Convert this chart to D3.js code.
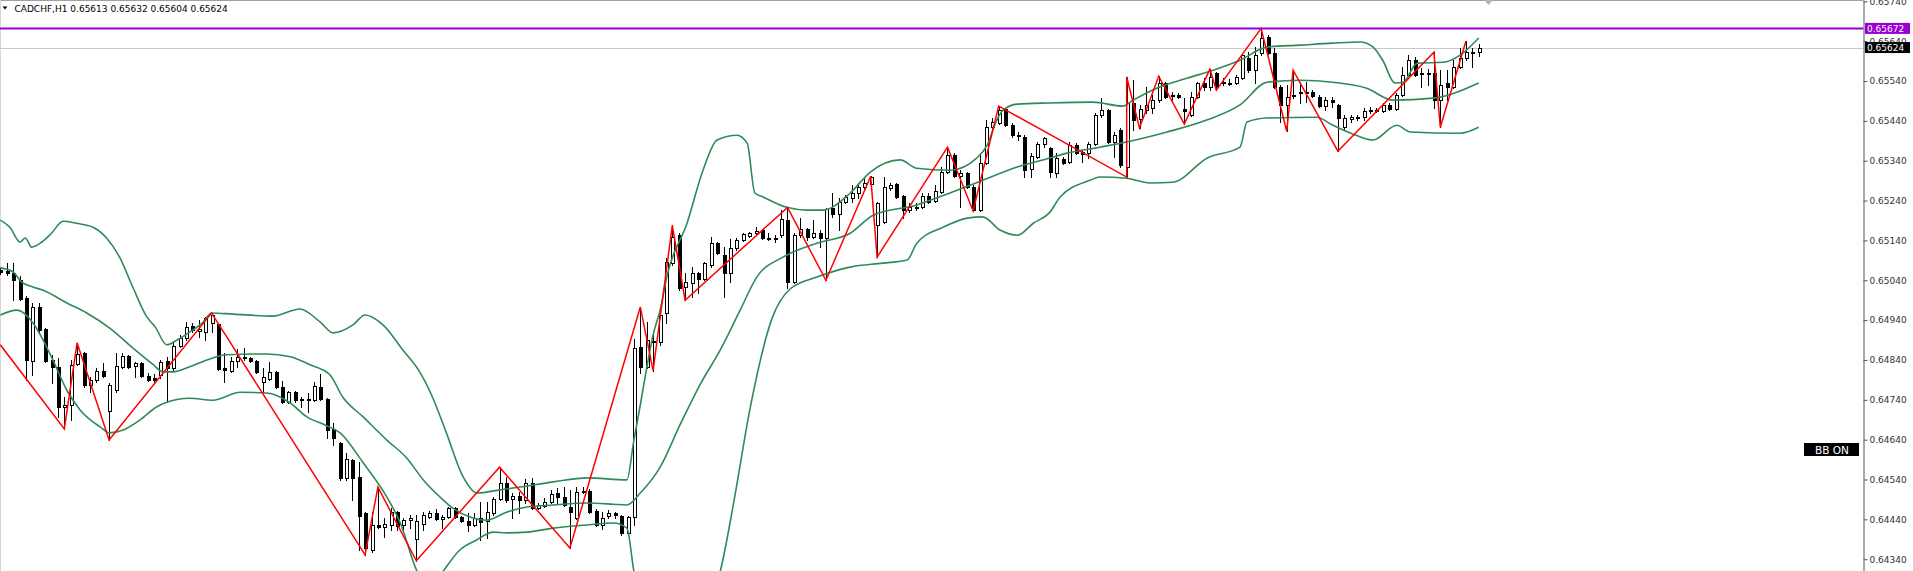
<!DOCTYPE html>
<html><head><meta charset="utf-8">
<script src="https://cdn.jsdelivr.net/npm/d3@7"></script>
<style>
html,body{margin:0;padding:0;background:#fff;overflow:hidden}
svg{display:block}
text{font-family:"DejaVu Sans",sans-serif}
</style></head><body>
<svg id="c" width="1913" height="571"></svg>
<script>
const symbol = "CADCHF,H1";
const open = [0.65066,0.65064,0.65059,0.65040,0.64995,0.64838,0.64973,0.64918,0.64840,0.64823,
0.64722,0.64727,0.64830,0.64858,0.64778,0.64790,0.64813,0.64712,0.64764,0.64823,
0.64850,0.64825,0.64833,0.64800,0.64795,0.64803,0.64838,0.64820,0.64875,0.64895,
0.64925,0.64913,0.64910,0.64933,0.64930,0.64820,0.64813,0.64838,0.64845,0.64845,
0.64838,0.64785,0.64793,0.64810,0.64772,0.64734,0.64759,0.64742,0.64739,0.64739,
0.64772,0.64742,0.64667,0.64632,0.64544,0.64589,0.64547,0.64456,0.64363,0.64426,
0.64421,0.64426,0.64458,0.64426,0.64438,0.64391,0.64428,0.64446,0.64456,0.64441,
0.64446,0.64468,0.64446,0.64436,0.64426,0.64443,0.64436,0.64456,0.64491,0.64531,
0.64491,0.64498,0.64488,0.64531,0.64468,0.64473,0.64483,0.64506,0.64496,0.64471,
0.64443,0.64509,0.64511,0.64461,0.64426,0.64448,0.64456,0.64448,0.64406,0.64446,
0.64873,0.64823,0.64885,0.64885,0.64958,0.65083,0.65153,0.65023,0.65033,0.65058,
0.65043,0.65078,0.65133,0.65103,0.65058,0.65121,0.65141,0.65151,0.65158,0.65166,
0.65146,0.65146,0.65153,0.65191,0.65035,0.65153,0.65168,0.65148,0.65158,0.65146,
0.65221,0.65206,0.65236,0.65246,0.65259,0.65274,0.65281,0.65178,0.65186,0.65271,
0.65281,0.65251,0.65216,0.65224,0.65223,0.65251,0.65239,0.65261,0.65311,0.65354,
0.65301,0.65309,0.65274,0.65216,0.65334,0.65424,0.65434,0.65469,0.65429,0.65404,
0.65399,0.65319,0.65349,0.65382,0.65372,0.65309,0.65344,0.65337,0.65379,0.65362,
0.65359,0.65382,0.65454,0.65467,0.65387,0.65417,0.65324,0.65485,0.65444,0.65467,
0.65472,0.65492,0.65535,0.65505,0.65505,0.65469,0.65454,0.65500,0.65535,0.65525,
0.65560,0.65537,0.65536,0.65535,0.65547,0.65597,0.65567,0.65610,0.65650,0.65610,
0.65525,0.65480,0.65502,0.65510,0.65512,0.65512,0.65500,0.65477,0.65492,0.65480,
0.65424,0.65444,0.65448,0.65449,0.65466,0.65467,0.65464,0.65480,0.65469,0.65505,
0.65555,0.65592,0.65560,0.65559,0.65560,0.65492,0.65535,0.65525,0.65575,0.65597,
0.65612,0.65613];
const high = [0.65071,0.65084,0.65084,0.65051,0.65000,0.64983,0.64983,0.64920,0.64853,0.64845,
0.64747,0.64840,0.64883,0.64860,0.64798,0.64820,0.64833,0.64783,0.64858,0.64858,
0.64853,0.64835,0.64835,0.64808,0.64805,0.64840,0.64848,0.64883,0.64903,0.64935,
0.64933,0.64940,0.64948,0.64958,0.64933,0.64858,0.64848,0.64868,0.64870,0.64848,
0.64840,0.64820,0.64835,0.64813,0.64788,0.64762,0.64762,0.64747,0.64757,0.64785,
0.64805,0.64744,0.64682,0.64634,0.64607,0.64592,0.64584,0.64458,0.64458,0.64521,
0.64443,0.64468,0.64460,0.64443,0.64451,0.64451,0.64458,0.64461,0.64466,0.64451,
0.64471,0.64471,0.64448,0.64456,0.64456,0.64483,0.64483,0.64496,0.64571,0.64546,
0.64506,0.64509,0.64541,0.64544,0.64481,0.64493,0.64514,0.64519,0.64521,0.64514,
0.64521,0.64521,0.64516,0.64466,0.64458,0.64463,0.64458,0.64451,0.64448,0.64893,
0.64973,0.64935,0.64903,0.64970,0.65096,0.65178,0.65158,0.65058,0.65073,0.65061,
0.65086,0.65148,0.65136,0.65123,0.65143,0.65146,0.65158,0.65161,0.65173,0.65168,
0.65158,0.65153,0.65216,0.65223,0.65158,0.65196,0.65171,0.65191,0.65166,0.65221,
0.65259,0.65246,0.65254,0.65279,0.65284,0.65296,0.65301,0.65236,0.65299,0.65284,
0.65284,0.65254,0.65234,0.65234,0.65259,0.65259,0.65279,0.65324,0.65374,0.65359,
0.65316,0.65311,0.65279,0.65359,0.65442,0.65447,0.65477,0.65472,0.65434,0.65412,
0.65404,0.65359,0.65387,0.65399,0.65374,0.65359,0.65349,0.65387,0.65384,0.65367,
0.65387,0.65459,0.65497,0.65469,0.65412,0.65422,0.65550,0.65542,0.65479,0.65525,
0.65505,0.65552,0.65537,0.65512,0.65510,0.65497,0.65512,0.65537,0.65547,0.65570,
0.65562,0.65547,0.65545,0.65555,0.65610,0.65612,0.65625,0.65672,0.65655,0.65623,
0.65530,0.65530,0.65567,0.65537,0.65537,0.65517,0.65505,0.65500,0.65500,0.65482,
0.65454,0.65454,0.65454,0.65472,0.65474,0.65472,0.65485,0.65485,0.65510,0.65575,
0.65605,0.65600,0.65572,0.65570,0.65612,0.65567,0.65567,0.65592,0.65623,0.65640,
0.65623,0.65632];
const low = [0.65056,0.65054,0.64990,0.64990,0.64790,0.64803,0.64910,0.64835,0.64783,0.64697,
0.64667,0.64689,0.64828,0.64773,0.64759,0.64785,0.64798,0.64639,0.64759,0.64820,
0.64820,0.64798,0.64798,0.64788,0.64783,0.64795,0.64734,0.64815,0.64873,0.64890,
0.64910,0.64898,0.64890,0.64910,0.64815,0.64785,0.64810,0.64823,0.64840,0.64835,
0.64808,0.64759,0.64790,0.64769,0.64732,0.64732,0.64734,0.64722,0.64709,0.64737,
0.64739,0.64644,0.64627,0.64539,0.64539,0.64488,0.64363,0.64351,0.64358,0.64418,
0.64396,0.64413,0.64413,0.64413,0.64418,0.64336,0.64413,0.64443,0.64438,0.64418,
0.64443,0.64443,0.64433,0.64411,0.64423,0.64388,0.64393,0.64451,0.64488,0.64483,
0.64443,0.64456,0.64481,0.64466,0.64466,0.64471,0.64481,0.64481,0.64473,0.64368,
0.64441,0.64506,0.64456,0.64423,0.64416,0.64443,0.64443,0.64401,0.64403,0.64426,
0.64808,0.64820,0.64813,0.64878,0.64933,0.65078,0.65015,0.64990,0.64998,0.65008,
0.65040,0.65073,0.65106,0.64998,0.65035,0.65116,0.65138,0.65148,0.65156,0.65143,
0.65141,0.65136,0.65148,0.65020,0.65033,0.65148,0.65141,0.65146,0.65123,0.65040,
0.65198,0.65166,0.65234,0.65236,0.65246,0.65266,0.65279,0.65098,0.65183,0.65266,
0.65246,0.65196,0.65211,0.65216,0.65221,0.65234,0.65236,0.65259,0.65309,0.65299,
0.65223,0.65271,0.65214,0.65213,0.65332,0.65422,0.65432,0.65427,0.65399,0.65392,
0.65299,0.65299,0.65347,0.65374,0.65299,0.65299,0.65332,0.65334,0.65357,0.65337,
0.65347,0.65379,0.65449,0.65384,0.65349,0.65324,0.65299,0.65417,0.65422,0.65459,
0.65459,0.65487,0.65497,0.65492,0.65497,0.65432,0.65452,0.65497,0.65517,0.65517,
0.65517,0.65530,0.65530,0.65532,0.65545,0.65562,0.65535,0.65605,0.65607,0.65522,
0.65437,0.65414,0.65497,0.65485,0.65487,0.65500,0.65474,0.65467,0.65474,0.65364,
0.65417,0.65437,0.65442,0.65442,0.65459,0.65462,0.65462,0.65467,0.65467,0.65502,
0.65552,0.65552,0.65525,0.65530,0.65472,0.65424,0.65492,0.65522,0.65572,0.65592,
0.65575,0.65604];
const close = [0.65061,0.65059,0.65040,0.64993,0.64840,0.64973,0.64915,0.64838,0.64823,0.64722,
0.64727,0.64828,0.64855,0.64778,0.64790,0.64813,0.64800,0.64778,0.64825,0.64850,
0.64823,0.64833,0.64800,0.64790,0.64790,0.64835,0.64820,0.64875,0.64895,0.64923,
0.64915,0.64918,0.64945,0.64953,0.64818,0.64815,0.64838,0.64848,0.64848,0.64838,
0.64810,0.64798,0.64810,0.64772,0.64734,0.64759,0.64739,0.64739,0.64742,0.64774,
0.64742,0.64664,0.64644,0.64544,0.64592,0.64544,0.64448,0.64368,0.64426,0.64421,
0.64428,0.64458,0.64423,0.64438,0.64443,0.64436,0.64451,0.64456,0.64441,0.64446,
0.64468,0.64446,0.64436,0.64426,0.64443,0.64433,0.64458,0.64491,0.64531,0.64488,
0.64498,0.64488,0.64531,0.64468,0.64476,0.64483,0.64504,0.64496,0.64476,0.64458,
0.64509,0.64511,0.64458,0.64426,0.64443,0.64456,0.64451,0.64406,0.64446,0.64870,
0.64823,0.64890,0.64888,0.64953,0.65086,0.65148,0.65020,0.65035,0.65058,0.65043,
0.65083,0.65133,0.65108,0.65058,0.65121,0.65141,0.65156,0.65158,0.65163,0.65146,
0.65145,0.65147,0.65193,0.65035,0.65153,0.65168,0.65148,0.65158,0.65146,0.65218,
0.65206,0.65236,0.65249,0.65259,0.65274,0.65284,0.65299,0.65234,0.65274,0.65279,
0.65249,0.65216,0.65223,0.65223,0.65251,0.65236,0.65264,0.65311,0.65354,0.65301,
0.65309,0.65274,0.65216,0.65334,0.65424,0.65437,0.65467,0.65429,0.65404,0.65402,
0.65316,0.65352,0.65382,0.65397,0.65311,0.65347,0.65334,0.65379,0.65359,0.65357,
0.65382,0.65454,0.65467,0.65387,0.65404,0.65329,0.65485,0.65442,0.65469,0.65479,
0.65492,0.65535,0.65500,0.65502,0.65500,0.65464,0.65500,0.65535,0.65525,0.65550,
0.65525,0.65535,0.65535,0.65550,0.65605,0.65567,0.65605,0.65648,0.65610,0.65525,
0.65480,0.65500,0.65505,0.65512,0.65513,0.65502,0.65477,0.65492,0.65487,0.65447,
0.65447,0.65449,0.65449,0.65464,0.65467,0.65468,0.65480,0.65469,0.65505,0.65555,
0.65592,0.65555,0.65559,0.65560,0.65492,0.65530,0.65525,0.65575,0.65597,0.65612,
0.65610,0.65624];

// Bollinger bands read at sample bar positions
const upperIdx = [0,1.5,3.1,3.9,4.9,6.5,8.0,9.8,11.9,14.5,16.6,18.7,20.7,22.9,24.2,26.0,27.6,29.6,31.7,33.0,36.4,42.6,46.8,50.0,52.0,55.1,57.0,59.8,62.9,65.6,67.6,69.7,72.3,74.5,78.1,81.2,86.4,91.7,97.9,99.0,100.0,101.0,102.0,103.1,104.2,107.3,109.8,112.0,115.1,116.7,117.9,119.2,122.9,126.0,128.5,132.8,135.9,140.6,143.2,148.4,152.6,154.2,155.7,156.7,158.9,164.0,170.7,175.4,177.0,180.7,185.4,189.5,193.7,197.9,203.1,208.2,212.5,214.5,216.0,217.9,219.2,221.4,225.4,228.1,231.0];
const upper = [0.65191,0.65173,0.65136,0.65146,0.65123,0.65136,0.65158,0.65188,0.65183,0.65173,0.65146,0.65096,0.65023,0.64948,0.64923,0.64878,0.64890,0.64910,0.64935,0.64958,0.64955,0.64950,0.64968,0.64935,0.64908,0.64928,0.64953,0.64928,0.64865,0.64808,0.64744,0.64657,0.64547,0.64506,0.64514,0.64521,0.64534,0.64544,0.64539,0.64639,0.64727,0.64820,0.64903,0.64965,0.65053,0.65183,0.65316,0.65392,0.65404,0.65384,0.65259,0.65249,0.65223,0.65216,0.65216,0.65259,0.65311,0.65342,0.65321,0.65316,0.65347,0.65379,0.65442,0.65467,0.65482,0.65485,0.65487,0.65477,0.65492,0.65522,0.65547,0.65567,0.65592,0.65625,0.65630,0.65635,0.65638,0.65625,0.65592,0.65535,0.65537,0.65585,0.65587,0.65605,0.65648];
const middleIdx = [0,2.0,3.3,5.1,6.7,10.4,13.5,17.1,20.7,23.9,25.4,27.0,29.6,32.3,35.4,41.6,45.3,48.4,51.5,53.5,56.7,60.4,63.5,66.1,68.7,70.7,73.4,76.0,79.1,82.3,86.4,91.6,95.8,97.9,100.0,103.1,106.2,109.3,112.5,115.6,118.2,122.3,127.6,132.8,136.4,143.2,148.4,153.5,158.9,164.0,166.7,171.8,176.0,182.3,188.5,193.7,197.9,203.1,208.2,213.5,217.6,223.9,231.0];
const middle = [0.65071,0.65061,0.65036,0.65023,0.65015,0.64983,0.64958,0.64920,0.64870,0.64828,0.64810,0.64810,0.64823,0.64840,0.64853,0.64855,0.64848,0.64828,0.64803,0.64747,0.64697,0.64639,0.64594,0.64539,0.64496,0.64468,0.64446,0.64438,0.64458,0.64471,0.64476,0.64481,0.64478,0.64476,0.64506,0.64571,0.64677,0.64777,0.64865,0.64965,0.65048,0.65098,0.65133,0.65158,0.65203,0.65229,0.65259,0.65291,0.65324,0.65347,0.65359,0.65374,0.65387,0.65412,0.65442,0.65480,0.65537,0.65542,0.65537,0.65522,0.65492,0.65497,0.65535];
const lowerIdx = [0,2.6,5.1,6.7,8.2,10.4,12.5,15.6,17.1,19.2,21.8,24.4,26.0,29.6,33.2,37.5,41.6,45.3,47.9,50.7,53.1,56.7,60.4,62.5,65.1,67.1,69.2,71.8,74.4,77.0,79.1,82.3,86.4,91.6,95.8,97.9,99.0,100.0,102.0,104.0,106.2,108.2,110.3,112.5,114.8,117.1,120.6,123.4,127.6,132.8,137.9,141.7,143.2,147.3,151.1,153.5,156.2,158.9,161.4,164.0,165.6,170.3,171.8,176.0,179.6,183.2,188.6,193.7,194.8,197.9,205.7,208.2,211.8,214.5,218.2,220.3,228.1,231.0];
const lower = [0.64953,0.64965,0.64933,0.64890,0.64840,0.64764,0.64714,0.64672,0.64657,0.64664,0.64689,0.64722,0.64734,0.64744,0.64739,0.64759,0.64757,0.64732,0.64697,0.64677,0.64657,0.64582,0.64496,0.64431,0.64310,0.64263,0.64310,0.64363,0.64388,0.64408,0.64406,0.64408,0.64418,0.64426,0.64431,0.64418,0.64310,0.64238,0.64175,0.64125,0.64112,0.64137,0.64213,0.64310,0.64501,0.64714,0.64945,0.65018,0.65048,0.65073,0.65083,0.65091,0.65133,0.65173,0.65196,0.65199,0.65166,0.65153,0.65183,0.65211,0.65249,0.65291,0.65299,0.65296,0.65284,0.65286,0.65347,0.65374,0.65437,0.65447,0.65449,0.65429,0.65404,0.65392,0.65429,0.65412,0.65409,0.65424];

// ZigZag turning points (bar index, price)
const zzIdx = [0,10,12,17,33,57,59,65,78,89,100,102,105,107,123,129,136,137,148,152,156,176,176,178,181,185,189,190,197,201,202,209,224,225,229];
const zzVal = [0.64878,0.64667,0.64883,0.64639,0.64958,0.64351,0.64521,0.64336,0.64571,0.64368,0.64973,0.64813,0.65178,0.64990,0.65223,0.65040,0.65301,0.65098,0.65374,0.65214,0.65477,0.65299,0.65550,0.65422,0.65552,0.65432,0.65570,0.65517,0.65672,0.65414,0.65567,0.65364,0.65612,0.65424,0.65640];

const levelPrice = 0.65672;   // horizontal level (purple)
const tickVals = [0.65740,0.65640,0.65540,0.65440,0.65340,0.65240,0.65140,0.65040,0.64940,0.64840,0.64740,0.64640,0.64540,0.64440,0.64340];

const W = 1913, H = 571, axisX = 1863.5;
const svg = d3.select("#c");
const x = d3.scaleLinear().domain([0, open.length - 1]).range([0.3, 1478.7]);
const y = d3.scaleLinear().domain([0.643104, 0.657433]).range([H, 0]);
const fmt = d3.format(".5f");

svg.append("defs").append("clipPath").attr("id","clip")
  .append("rect").attr("x",0).attr("y",0).attr("width",axisX).attr("height",H);

// frame
svg.append("line").attr("x1",0).attr("x2",axisX).attr("y1",0.5).attr("y2",0.5).attr("stroke","#a0a0a0");
svg.append("line").attr("x1",0.5).attr("x2",0.5).attr("y1",0).attr("y2",H).attr("stroke","#d8d8d8");

const plot = svg.append("g").attr("clip-path","url(#clip)");

// current price line
const last = close[close.length-1];
plot.append("line").attr("x1",0).attr("x2",axisX).attr("y1",Math.round(y(last))+0.5).attr("y2",Math.round(y(last))+0.5)
  .attr("stroke","#c8c8c8").attr("stroke-width",1);

// candles
const cg = plot.append("g").attr("shape-rendering","crispEdges");
open.forEach((o,i)=>{
  const n = Math.round(x(i));
  const c = close[i];
  const bull = c >= o;
  cg.append("line").attr("x1",n+0.5).attr("x2",n+0.5)
    .attr("y1",Math.round(y(high[i]))).attr("y2",Math.round(y(low[i]))+1)
    .attr("stroke","#000");
  const top = Math.round(y(Math.max(o,c))), bot = Math.round(y(Math.min(o,c)));
  cg.append("rect").attr("x",n-0.5).attr("y",top+0.5).attr("width",3)
    .attr("height",Math.max(1,bot-top))
    .attr("fill",bull?"#fff":"#000").attr("stroke","#000");
});

// bands
const bandLine = d3.line().x(d=>x(d[0])).y(d=>y(d[1])).curve(d3.curveMonotoneX);
[[upperIdx,upper],[middleIdx,middle],[lowerIdx,lower]].forEach(([ix,vals])=>{
  plot.append("path").datum(ix.map((d,k)=>[d,vals[k]])).attr("d",bandLine)
    .attr("fill","none").attr("stroke","#2e8b57").attr("stroke-width",1.6);
});

// zigzag
const zz = d3.line().x(d=>x(d[0])).y(d=>y(d[1]));
plot.append("path").datum(zzIdx.map((d,k)=>[d,zzVal[k]])).attr("d",zz)
  .attr("fill","none").attr("stroke","#ff0000").attr("stroke-width",1.5).attr("stroke-linejoin","miter");

// purple level
plot.append("line").attr("x1",0).attr("x2",axisX).attr("y1",y(levelPrice)).attr("y2",y(levelPrice))
  .attr("stroke","#9b00d3").attr("stroke-width",2);

// axis
const ax = svg.append("g").attr("transform",`translate(${axisX},0)`)
  .call(d3.axisRight(y).tickValues(tickVals).tickSize(4).tickSizeOuter(0).tickPadding(2).tickFormat(fmt));
ax.select(".domain").attr("stroke","#555");
ax.selectAll(".tick line").attr("stroke","#555");
ax.selectAll(".tick text").attr("fill","#333").style("font-family","'DejaVu Sans',sans-serif").style("font-size","9px");

// price labels
function priceBox(p, bg){
  const yy = y(p);
  svg.append("rect").attr("x",1865).attr("y",yy-5.5).attr("width",45).attr("height",11).attr("fill",bg);
  svg.append("text").attr("x",1867).attr("y",yy+3.3).attr("fill","#fff").style("font-size","9px").text(fmt(p));
}
priceBox(levelPrice,"#9b00d3");
priceBox(last,"#000");

// shift marker
svg.append("path").attr("d","M1484,0 L1493,0 L1488.5,5 Z").attr("fill","#b4b4b4");

// title
svg.append("path").attr("d","M2.5,6.5 L7.5,6.5 L5,9.5 Z").attr("fill","#000");
svg.append("text").attr("x",14.5).attr("y",11.5).attr("fill","#000").style("font-size","9px")
  .text(`${symbol}  ${fmt(open[open.length-1])} ${fmt(high[high.length-1])} ${fmt(low[low.length-1])} ${fmt(last)}`);

// BB ON button
svg.append("rect").attr("x",1804).attr("y",443).attr("width",55).attr("height",13).attr("fill","#000");
svg.append("text").attr("x",1815).attr("y",453.5).attr("fill","#fff").style("font-size","10.5px").text("BB ON");
</script>
</body></html>
